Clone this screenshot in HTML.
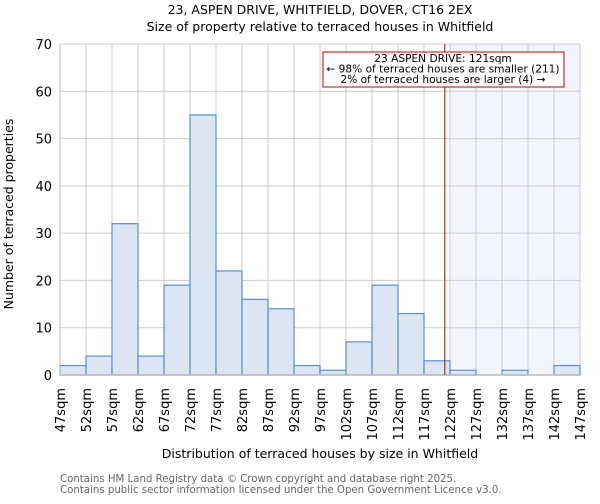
<!DOCTYPE html>
<html><head><meta charset="utf-8"><style>
body{margin:0;background:#fff;font-family:"DejaVu Sans","Liberation Sans",sans-serif}
svg text{font-family:"DejaVu Sans","Liberation Sans",sans-serif}
</style></head><body>
<svg id="chart" width="600" height="500" xmlns="http://www.w3.org/2000/svg">
<text x="320" y="14" text-anchor="middle" font-size="12.5">23, ASPEN DRIVE, WHITFIELD, DOVER, CT16 2EX</text>
<text x="320" y="31" text-anchor="middle" font-size="12.5">Size of property relative to terraced houses in Whitfield</text>
<g id="g"></g>
<text transform="translate(13,214) rotate(-90)" text-anchor="middle" font-size="12.5">Number of terraced properties</text>
<text x="320" y="458" text-anchor="middle" font-size="12.5">Distribution of terraced houses by size in Whitfield</text>
<text x="60" y="482" font-size="10.2" fill="#666">Contains HM Land Registry data © Crown copyright and database right 2025.</text>
<text x="60" y="493" font-size="10.2" fill="#666">Contains public sector information licensed under the Open Government Licence v3.0.</text>
</svg>
<script>
const binEdges=[47,52,57,62,67,72,77,82,87,92,97,102,107,112,117,122,127,132,137,142,147];
const counts=[2,4,32,4,19,55,22,16,14,2,1,7,19,13,3,1,0,1,0,2];
const yTicks=[0,10,20,30,40,50,60,70];
const subjectSize=121;
const L=60,R=580,T=44,B=375;
const x=v=>L+(v-47)/(147-47)*(R-L);
const y=v=>B-v/70*(B-T);
const NS="http://www.w3.org/2000/svg";
const g=document.getElementById('g');
function mk(t,a){const e=document.createElementNS(NS,t);for(const k in a)e.setAttribute(k,a[k]);g.appendChild(e);return e;}
let e;
e=mk('rect',{x:x(122),y:T,width:R-x(122),height:B-T,fill:'#f2f5fd'});


yTicks.forEach(t=>{
 e=mk('line',{x1:L,x2:R,y1:y(t),y2:y(t),stroke:'#ccc','stroke-width':1});
 
 
 e=mk('text',{x:L-8,y:y(t)+5,'text-anchor':'end','font-size':13});
 e.textContent=t;
 
 
});
binEdges.forEach(b=>{
 e=mk('line',{x1:x(b),x2:x(b),y1:T,y2:B,stroke:'#ccc','stroke-width':1});
 
 
 e=mk('text',{transform:`translate(${x(b)+5},388) rotate(-90)`,'text-anchor':'end','font-size':13});
 e.textContent=b+'sqm';
 
 
});
counts.forEach((c,i)=>{
 if(c<=0)return;
 e=mk('rect',{x:x(binEdges[i]),y:y(c),width:x(binEdges[i+1])-x(binEdges[i]),height:B-y(c),fill:'#dce6f3',stroke:'#5b8ed6','stroke-width':1.2});
 
 
});
e=mk('line',{x1:L,x2:R,y1:B,y2:B,stroke:'#bbb','stroke-width':1.5});


e=mk('line',{x1:L,x2:L,y1:T,y2:B,stroke:'#bbb','stroke-width':1});


e=mk('line',{x1:x(subjectSize),x2:x(subjectSize),y1:T,y2:B,stroke:'#8a1010','stroke-width':1});


e=mk('rect',{x:323,y:52,width:241,height:35,fill:'#fff',stroke:'#c00','stroke-width':1});


const lines=['23 ASPEN DRIVE: 121sqm','← 98% of terraced houses are smaller (211)','2% of terraced houses are larger (4) →'];
lines.forEach((s,i)=>{
 e=mk('text',{x:443,y:62+i*10.5,'text-anchor':'middle','font-size':10.6});
 e.textContent=s;
 
 
});
</script>
</body></html>
